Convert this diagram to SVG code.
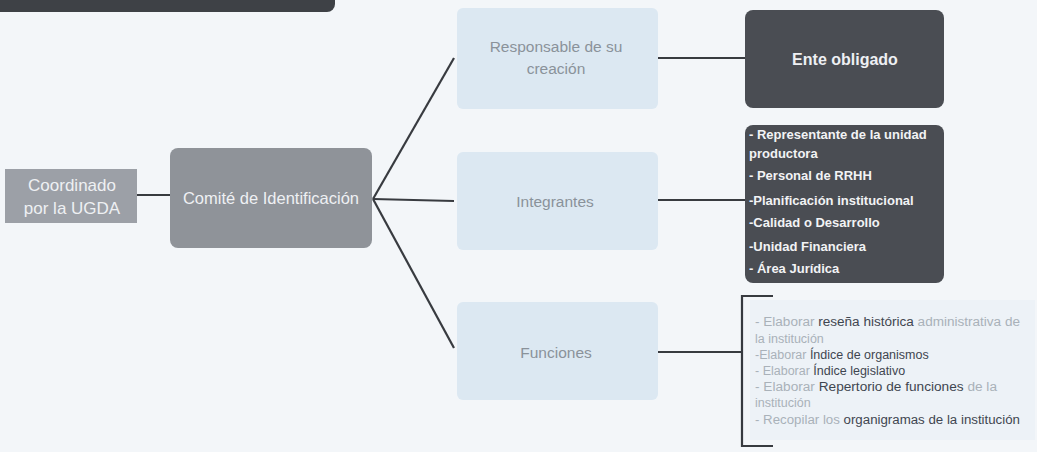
<svg xmlns="http://www.w3.org/2000/svg" width="1037" height="452" viewBox="0 0 1037 452">
<style>
.bg{fill:#f3f6f9}
.dark{fill:#4a4d53}
.mid{fill:#8f9399}
.mid2{fill:#9ca0a7}
.light{fill:#dce8f2}
.wt{font-family:"Liberation Sans",Arial,sans-serif;fill:#eef0f3;text-anchor:middle}
.lt{font-family:"Liberation Sans",Arial,sans-serif;fill:#8a929a;text-anchor:middle;font-size:15.5px}
.lst{font-family:"Liberation Sans",Arial,sans-serif;fill:#f2f3f5;font-size:13px;font-weight:bold}
.fn{font-family:"Liberation Sans",Arial,sans-serif;fill:#a9b1b9;font-size:12.5px}
.fn tspan.d{fill:#3f4650}
.con{stroke:#383b40;stroke-width:2.2;fill:none}
</style>
<rect class="bg" x="0" y="0" width="1037" height="452"/>
<g id="top-bar"><rect x="-10" y="-12" width="345" height="24" rx="8" fill="#3e4146"/></g>
<g id="connectors">
<line class="con" x1="137" y1="195" x2="170" y2="195"/>
<line class="con" x1="373" y1="199" x2="454" y2="58"/>
<line class="con" x1="373" y1="199" x2="454" y2="201"/>
<line class="con" x1="373" y1="199" x2="454" y2="348"/>
<line class="con" x1="658" y1="58" x2="745" y2="58"/>
<line class="con" x1="658" y1="200" x2="745" y2="200"/>
<line class="con" x1="658" y1="352" x2="742" y2="352"/>
<path class="con" d="M773 296 H742 V446 H773"/>
</g>
<g id="coordinado">
<rect class="mid2" x="5" y="169" width="132" height="54"/>
<text class="wt" x="72" y="191" font-size="17">Coordinado</text>
<text class="wt" x="72" y="214" font-size="17">por la UGDA</text>
</g>
<g id="comite">
<rect class="mid" x="170" y="148" width="202" height="100" rx="8"/>
<text class="wt" x="271" y="204" font-size="16.5">Comité de Identificación</text>
</g>
<g id="responsable">
<rect class="light" x="457" y="8" width="201" height="101" rx="6"/>
<text class="lt" x="556" y="52">Responsable de su</text>
<text class="lt" x="556" y="74">creación</text>
</g>
<g id="integrantes">
<rect class="light" x="457" y="152" width="201" height="98" rx="6"/>
<text class="lt" x="555" y="207">Integrantes</text>
</g>
<g id="funciones">
<rect class="light" x="457" y="302" width="201" height="98" rx="6"/>
<text class="lt" x="556" y="358">Funciones</text>
</g>
<g id="ente">
<rect class="dark" x="745" y="10" width="199" height="98" rx="8"/>
<text class="wt" x="845" y="65" font-size="16" font-weight="bold">Ente obligado</text>
</g>
<g id="lista-integrantes">
<rect class="dark" x="745" y="125" width="199" height="158" rx="8"/>
<text class="lst" x="749" y="139">- Representante de la unidad</text>
<text class="lst" x="749" y="158">productora</text>
<text class="lst" x="749" y="180">- Personal de RRHH</text>
<text class="lst" x="749" y="205">-Planificación institucional</text>
<text class="lst" x="749" y="227">-Calidad o Desarrollo</text>
<text class="lst" x="749" y="251">-Unidad Financiera</text>
<text class="lst" x="749" y="273">- Área Jurídica</text>
</g>
<g id="lista-funciones">
<rect x="750" y="300" width="285" height="140" fill="#edf2f7"/>
<text class="fn" x="755" y="326" textLength="265" lengthAdjust="spacingAndGlyphs">- Elaborar <tspan class="d">reseña histórica</tspan> administrativa de</text>
<text class="fn" x="755" y="343">la institución</text>
<text class="fn" x="755" y="359">-Elaborar <tspan class="d">Índice de organismos</tspan></text>
<text class="fn" x="755" y="375">- Elaborar <tspan class="d">Índice legislativo</tspan></text>
<text class="fn" x="755" y="391" textLength="242" lengthAdjust="spacingAndGlyphs">- Elaborar <tspan class="d">Repertorio de funciones</tspan> de la</text>
<text class="fn" x="755" y="407">institución</text>
<text class="fn" x="755" y="424" textLength="265" lengthAdjust="spacingAndGlyphs">- Recopilar los <tspan class="d">organigramas de la institución</tspan></text>
</g>
</svg>
